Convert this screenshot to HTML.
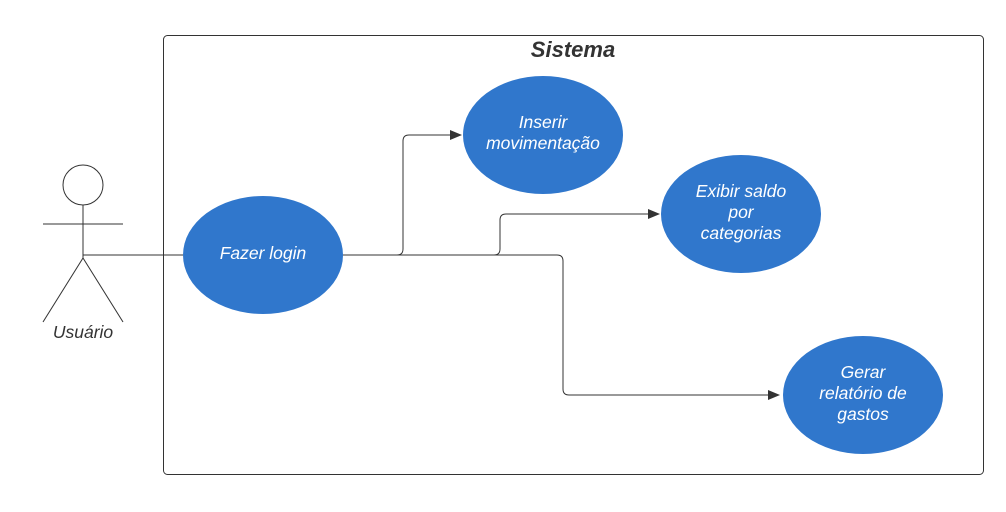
<!DOCTYPE html>
<html><head><meta charset="utf-8"><style>
html,body{margin:0;padding:0;background:#fff;}
svg{display:block;}
text{font-family:"Liberation Sans",sans-serif;}
</style></head><body>
<svg width="1006" height="512" viewBox="0 0 1006 512" xmlns="http://www.w3.org/2000/svg">
<defs><marker id="a" markerWidth="12" markerHeight="10" refX="11" refY="5" orient="auto" markerUnits="userSpaceOnUse"><path d="M0,0 L12,5 L0,10 Z" fill="#333"/></marker></defs>
<rect x="163.5" y="35.5" width="820" height="439" rx="4" fill="#fff" stroke="#333" stroke-width="1"/>
<text x="573" y="57" text-anchor="middle" font-size="22" font-weight="bold" font-style="italic" fill="#333">Sistema</text>
<g stroke="#333" stroke-width="1" fill="none">
<circle cx="83" cy="185" r="20" fill="#fff"/>
<line x1="83" y1="205" x2="83" y2="258"/>
<line x1="43" y1="224" x2="123" y2="224"/>
<line x1="83" y1="258" x2="43" y2="322"/>
<line x1="83" y1="258" x2="123" y2="322"/>
<line x1="83" y1="255" x2="183" y2="255"/>
<path d="M343,255 H397 Q403,255 403,249 V141 Q403,135 409,135 H461" marker-end="url(#a)"/>
<path d="M343,255 H494 Q500,255 500,249 V220 Q500,214 506,214 H659" marker-end="url(#a)"/>
<path d="M343,255 H557 Q563,255 563,261 V389 Q563,395 569,395 H779" marker-end="url(#a)"/>
</g>
<text x="83" y="338" text-anchor="middle" font-size="17.5" font-style="italic" fill="#333">Usuário</text>
<g fill="#3077cc">
<ellipse cx="263" cy="255" rx="80" ry="59"/>
<ellipse cx="543" cy="135" rx="80" ry="59"/>
<ellipse cx="741" cy="214" rx="80" ry="59"/>
<ellipse cx="863" cy="395" rx="80" ry="59"/>
</g>
<g fill="#fff" font-size="17.5" font-style="italic" text-anchor="middle">
<text x="263" y="259">Fazer login</text>
<text x="543" y="128">Inserir</text>
<text x="543" y="149">movimentação</text>
<text x="741" y="197">Exibir saldo</text>
<text x="741" y="218">por</text>
<text x="741" y="239">categorias</text>
<text x="863" y="378">Gerar</text>
<text x="863" y="399">relatório de</text>
<text x="863" y="420">gastos</text>
</g>
</svg>
</body></html>
